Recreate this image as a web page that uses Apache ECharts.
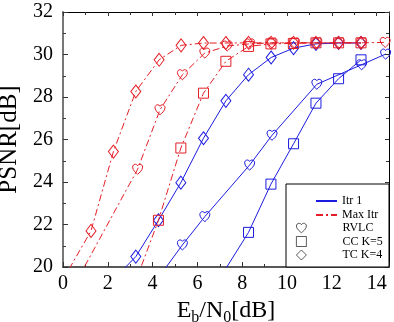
<!DOCTYPE html>
<html>
<head>
<meta charset="utf-8">
<script src="https://cdn.jsdelivr.net/npm/echarts@6/dist/echarts.min.js"></script>
<style>
  html, body { margin: 0; padding: 0; background: #fff; }
  #chart { width: 394px; height: 322px; }
</style>
</head>
<body>
<div id="chart"></div>
<script>
// x ticks / y ticks
var xTicks = [0, 2, 4, 6, 8, 10, 12, 14];
var yTicks = [20, 22, 24, 26, 28, 30, 32];

// Itr 1 (blue, solid)
var rvlc1X = [4.33, 5.33, 6.33, 8.33, 9.33, 11.33, 13.33, 14.4];
var rvlc1Y = [19.6, 21.04, 22.37, 24.8, 26.2, 28.6, 29.52, 30.02];
var cc1X = [7.27, 8.28, 9.28, 10.29, 11.29, 12.3, 13.3];
var cc1Y = [19.93, 21.63, 23.9, 25.8, 27.71, 28.86, 29.75];
var tc1X = [2.25, 3.25, 4.26, 5.26, 6.27, 7.27, 8.28, 9.29, 10.29, 11.29, 12.3, 13.3];
var tc1Y = [19.4, 20.49, 22.2, 23.97, 26.06, 27.82, 29.05, 29.86, 30.3, 30.5, 30.54, 30.54];

// Max Itr (red, dash-dot)
var rvlcMX = [0.33, 3.33, 4.33, 5.33, 6.33, 7.33, 8.33, 9.33, 10.33, 11.33, 12.33, 13.33, 14.38];
var rvlcMY = [18.8, 24.6, 27.4, 29.05, 30.07, 30.4, 30.5, 30.55, 30.55, 30.55, 30.55, 30.55, 30.57];
var ccMX = [3.27, 4.26, 5.26, 6.27, 7.27, 8.28, 9.28, 10.28, 11.29, 12.3, 13.3];
var ccMY = [19.4, 22.2, 25.6, 28.18, 29.68, 30.38, 30.5, 30.52, 30.55, 30.55, 30.55];
var tcMX = [0.27, 1.25, 2.25, 3.25, 4.29, 5.27, 6.27, 7.27, 8.28, 9.29, 10.29, 11.29, 12.3, 13.3];
var tcMY = [19.9, 21.7, 25.43, 28.26, 29.75, 30.43, 30.54, 30.54, 30.55, 30.55, 30.55, 30.55, 30.55, 30.55];

var legendLines = ['Itr 1', 'Max Itr'];
var legendMarks = ['RVLC', 'CC K=5', 'TC K=4'];

var X_MIN = 0, X_MAX = 14.55, Y_MIN = 20, Y_MAX = 32;
var BLUE = '#1c1ce0';
var RED = '#e41e26';
var SERIF = '"Liberation Serif", "DejaVu Serif", serif';
var HEART = 'path://M12,21 C9,18.5 2,13.5 2,7.5 C2,4.4 4.4,2 7.5,2 C9.5,2 11.2,3.1 12,4.8 C12.8,3.1 14.5,2 16.5,2 C19.6,2 22,4.4 22,7.5 C22,13.5 15,18.5 12,21 Z';
var DASHDOT = [7, 3, 2, 3];

function toData(xs, ys) {
  var out = [];
  for (var i = 0; i < xs.length; i++) {
    var item = { value: [xs[i], ys[i]] };
    if (ys[i] < Y_MIN) item.symbol = 'none';  // below the axis, only the line shows
    out.push(item);
  }
  return out;
}

function curve(xs, ys, color, dashed, symbol, size) {
  return {
    type: 'line',
    data: toData(xs, ys),
    symbol: symbol,
    symbolSize: size,
    showAllSymbol: true,
    clip: true,
    lineStyle: { color: color, width: 1, type: dashed ? DASHDOT : 'solid' },
    itemStyle: { color: 'transparent', borderColor: color, borderWidth: 1 },
    emphasis: { disabled: true },
    animation: false
  };
}

var tickFmt = function (v) { return xTicks.indexOf(v) >= 0 ? String(v) : ''; };

var chart = echarts.init(document.getElementById('chart'));
var option = {
  backgroundColor: '#fff',
  animation: false,
  grid: { left: 63, right: 5, top: 12, bottom: 55, containLabel: false, outerBoundsMode: 'none' },
  xAxis: [{
    type: 'value', min: X_MIN, max: X_MAX, interval: 2,
    name: '{n|E}{s|b}{n|/N}{s|0}{n|[dB]}',
    nameLocation: 'middle', nameGap: 27,
    nameTextStyle: {
      rich: {
        n: { fontFamily: SERIF, fontSize: 24, color: '#000', verticalAlign: 'middle', lineHeight: 30 },
        s: { fontFamily: SERIF, fontSize: 16, color: '#000', verticalAlign: 'bottom', lineHeight: 30 }
      }
    },
    axisLine: { show: true, onZero: false, lineStyle: { color: '#222', width: 1.5 } },
    axisTick: { show: true, inside: true, length: 5, lineStyle: { color: '#333' } },
    minorTick: { show: true, splitNumber: 2, length: 3, lineStyle: { color: '#333' } },
    axisLabel: { fontFamily: SERIF, fontSize: 20, color: '#000', margin: 7, showMaxLabel: false, formatter: tickFmt },
    splitLine: { show: false }
  }, {
    type: 'value', min: X_MIN, max: X_MAX, interval: 2, position: 'top',
    axisLine: { show: true, onZero: false, lineStyle: { color: '#000', width: 1 } },
    axisTick: { show: true, inside: true, length: 4, lineStyle: { color: '#333' } },
    minorTick: { show: true, splitNumber: 2, length: 3, lineStyle: { color: '#333' } },
    axisLabel: { show: false },
    splitLine: { show: false }
  }],
  yAxis: [{
    type: 'value', min: Y_MIN, max: Y_MAX, interval: 2,
    name: 'PSNR[dB]', nameLocation: 'middle', nameGap: 30,
    nameTextStyle: { fontFamily: SERIF, fontSize: 25, color: '#000' },
    axisLine: { show: true, onZero: false, lineStyle: { color: '#777', width: 2 } },
    axisTick: { show: true, inside: true, length: 5, lineStyle: { color: '#333' } },
    minorTick: { show: true, splitNumber: 2, length: 3, lineStyle: { color: '#333' } },
    axisLabel: { fontFamily: SERIF, fontSize: 20, color: '#000', margin: 10 },
    splitLine: { show: false }
  }, {
    type: 'value', min: Y_MIN, max: Y_MAX, interval: 2, position: 'right',
    axisLine: { show: true, onZero: false, lineStyle: { color: '#000', width: 1 } },
    axisTick: { show: true, inside: true, length: 4, lineStyle: { color: '#333' } },
    minorTick: { show: true, splitNumber: 2, length: 3, lineStyle: { color: '#333' } },
    axisLabel: { show: false },
    splitLine: { show: false }
  }],
  legend: [{
    data: legendLines,
    left: 315, top: 195, padding: 0,
    orient: 'vertical',
    itemWidth: 21, itemHeight: 10, itemGap: 2,
    itemStyle: { opacity: 0, borderWidth: 0 },
    textStyle: { fontFamily: SERIF, fontSize: 12, color: '#000' },
    selectedMode: false, z: 10
  }, {
    data: legendMarks,
    left: 296, top: 222, padding: 0,
    orient: 'vertical',
    itemWidth: 10, itemHeight: 10, itemGap: 1.5,
    itemStyle: { borderWidth: 0.8 },
    textStyle: { fontFamily: SERIF, fontSize: 12, color: '#000', padding: [0, 0, 0, 31] },
    selectedMode: false, z: 10
  }],
  graphic: [{
    type: 'rect', z: 5,
    shape: { x: 286, y: 184, width: 103, height: 83 },
    style: { fill: '#fff', stroke: '#000', lineWidth: 1 }
  }],
  series: [
    curve(rvlc1X, rvlc1Y, BLUE, false, HEART, [10, 10]),
    curve(cc1X, cc1Y, BLUE, false, 'rect', 10),
    curve(tc1X, tc1Y, BLUE, false, 'diamond', [10, 13]),
    curve(rvlcMX, rvlcMY, RED, true, HEART, [10, 10]),
    curve(ccMX, ccMY, RED, true, 'rect', 10),
    curve(tcMX, tcMY, RED, true, 'diamond', [10, 13]),
    // legend-only entries
    { name: 'Itr 1', type: 'line', data: [], symbol: 'none', lineStyle: { color: BLUE, width: 1 }, itemStyle: { color: BLUE } },
    { name: 'Max Itr', type: 'line', data: [], symbol: 'none', lineStyle: { color: RED, width: 1, type: DASHDOT }, itemStyle: { color: RED } },
    { name: 'RVLC', type: 'scatter', data: [], symbol: HEART, itemStyle: { color: 'transparent', borderColor: '#000', borderWidth: 0.8 } },
    { name: 'CC K=5', type: 'scatter', data: [], symbol: 'rect', itemStyle: { color: 'transparent', borderColor: '#000', borderWidth: 1 } },
    { name: 'TC K=4', type: 'scatter', data: [], symbol: 'diamond', itemStyle: { color: 'transparent', borderColor: '#000', borderWidth: 1 } }
  ]
};
chart.setOption(option);
</script>
</body>
</html>
